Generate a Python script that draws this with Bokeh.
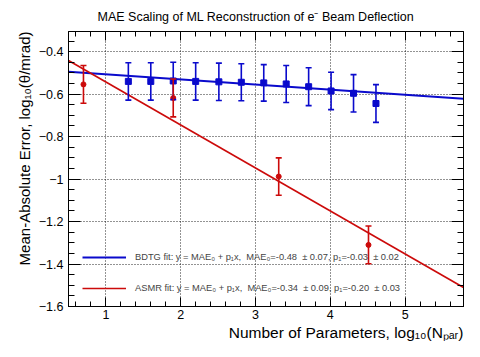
from bokeh.plotting import figure
from bokeh.models import (Range1d, LinearAxis, SingleIntervalTicker, CustomJSTickFormatter,
                          ColumnDataSource, Whisker, TeeHead, Title, Legend, LegendItem)
from bokeh.embed import file_html
from bokeh.resources import INLINE

# ---- data ----
bdtg_x = [1.30, 1.60, 1.90, 2.20, 2.51, 2.81, 3.11, 3.41, 3.71, 4.01, 4.31, 4.61]
bdtg_y = [-0.540, -0.540, -0.538, -0.540, -0.542, -0.544, -0.547, -0.552, -0.565, -0.585, -0.596, -0.644]
bdtg_err = [0.088, 0.088, 0.088, 0.088, 0.088, 0.087, 0.086, 0.087, 0.089, 0.088, 0.088, 0.089]
asmr_x = [0.70, 1.90, 3.31, 4.51]
asmr_y = [-0.554, -0.618, -0.988, -1.310]
asmr_err = [0.089, 0.089, 0.088, 0.089]
bdtg_fit = [-0.483, -0.024]    # intercept, slope
asmr_fit = [-0.340, -0.2025]
x_lim = [0.5, 5.78]
y_lim = [-1.6, -0.305]

title_text = "MAE Scaling of ML Reconstruction of e\u207b Beam Deflection"
xlabel_text = "Number of Parameters, log\u2081\u2080(N\u209a\u2090\u1d63)"
ylabel_text = "Mean-Absolute Error, log\u2081\u2080(\u03b8/mrad)"
bdtg_label = "BDTG fit: y = MAE\u2080 + p\u2081x,\u00a0 MAE\u2080=-0.48 \u00a0\u00b1 0.07, p\u2081=-0.03 \u00a0\u00b1 0.02"
asmr_label = "ASMR fit: y = MAE\u2080 + p\u2081x,\u00a0 MAE\u2080=-0.34 \u00a0\u00b1 0.09, p\u2081=-0.20 \u00a0\u00b1 0.03"

BLUE = "#0a0acc"
RED = "#cc0a0a"
FONT = "Liberation Sans"

p = figure(width=464, height=341, x_range=Range1d(*x_lim), y_range=Range1d(*y_lim),
           output_backend="svg", toolbar_location=None, title=title_text,
           min_border_left=68, min_border_right=1, min_border_top=29, min_border_bottom=35)
p.background_fill_color = "white"
p.border_fill_color = "white"
p.outline_line_color = "black"

p.title.align = "left"
p.title.offset = 29
p.title.standoff = 15
p.title.text_font = FONT
p.title.text_font_size = "12.5px"
p.title.text_font_style = "normal"
p.title.text_color = "black"

xt = SingleIntervalTicker(interval=1, num_minor_ticks=5)
yt = SingleIntervalTicker(interval=0.2, num_minor_ticks=4)
fmt = CustomJSTickFormatter(code="""
const v = Math.round(tick*10)/10;
if (Math.abs(v) < 1e-9) return '0';
return (v < 0 ? '\\u2212' : '') + Math.abs(v).toString();
""")
blank = CustomJSTickFormatter(code="return '';")

def style(ax, major, minor, fsize="12.5px"):
    ax.major_tick_in = major
    ax.major_tick_out = 0
    ax.minor_tick_in = minor
    ax.minor_tick_out = 0
    ax.axis_line_color = "black"
    ax.major_tick_line_color = "black"
    ax.minor_tick_line_color = "black"
    ax.major_label_text_font = FONT
    ax.major_label_text_font_size = fsize
    ax.major_label_text_color = "black"

xa = p.xaxis[0]
xa.ticker = xt
xa.formatter = fmt
style(xa, 9, 5)
xa.major_label_standoff = 3
ya = p.yaxis[0]
ya.ticker = yt
ya.formatter = fmt
style(ya, 12, 6)
ya.major_label_standoff = 5

top = LinearAxis(ticker=xt, formatter=blank)
style(top, 9, 5, "0px")
top.major_label_standoff = 0
p.add_layout(top, "above")
right = LinearAxis(ticker=yt, formatter=blank)
style(right, 12, 6, "0px")
right.major_label_standoff = 0
p.add_layout(right, "right")

for g, t in ((p.xgrid[0], xt), (p.ygrid[0], yt)):
    g.ticker = t
    g.grid_line_color = "black"
    g.grid_line_dash = "1 2"
    g.grid_line_width = 1
    g.grid_line_alpha = 0.85

# axis titles (ROOT style: aligned to the far end of each axis)
p.add_layout(Title(text=xlabel_text, align="right", standoff=0, text_font=FONT,
                   text_font_size="15.5px", text_font_style="normal", text_color="black"), "below")
p.add_layout(Title(text=ylabel_text, align="right", standoff=6, text_font=FONT,
                   text_font_size="15px", text_font_style="normal", text_color="black"), "left")

# fit lines
bl = p.line(x_lim, [bdtg_fit[0] + bdtg_fit[1] * x for x in x_lim], line_color=BLUE, line_width=2)
rl = p.line(x_lim, [asmr_fit[0] + asmr_fit[1] * x for x in x_lim], line_color=RED, line_width=1.6)

# BDTG points
src_b = ColumnDataSource(dict(x=bdtg_x, y=bdtg_y,
                              lo=[y - e for y, e in zip(bdtg_y, bdtg_err)],
                              hi=[y + e for y, e in zip(bdtg_y, bdtg_err)]))
p.add_layout(Whisker(source=src_b, base="x", lower="lo", upper="hi", level="glyph",
                     line_color=BLUE, line_width=1.6,
                     upper_head=TeeHead(size=6, line_color=BLUE, line_width=1.6),
                     lower_head=TeeHead(size=6, line_color=BLUE, line_width=1.6)))
p.scatter("x", "y", source=src_b, marker="square", size=6, color=BLUE)

# ASMR points
src_r = ColumnDataSource(dict(x=asmr_x, y=asmr_y,
                              lo=[y - e for y, e in zip(asmr_y, asmr_err)],
                              hi=[y + e for y, e in zip(asmr_y, asmr_err)]))
p.add_layout(Whisker(source=src_r, base="x", lower="lo", upper="hi", level="glyph",
                     line_color=RED, line_width=1.6,
                     upper_head=TeeHead(size=6, line_color=RED, line_width=1.6),
                     lower_head=TeeHead(size=6, line_color=RED, line_width=1.6)))
p.scatter("x", "y", source=src_r, marker="circle", size=5, color=RED)

legend = Legend(items=[LegendItem(label=bdtg_label, renderers=[bl]),
                       LegendItem(label=asmr_label, renderers=[rl])],
                location=(14, 8), padding=0, margin=0, spacing=11,
                glyph_width=44, glyph_height=20, label_height=20, label_standoff=9,
                label_text_font=FONT, label_text_font_size="9.3px",
                border_line_color=None, background_fill_alpha=0)
p.add_layout(legend)

open("out.html", "w").write(file_html(p, INLINE))
